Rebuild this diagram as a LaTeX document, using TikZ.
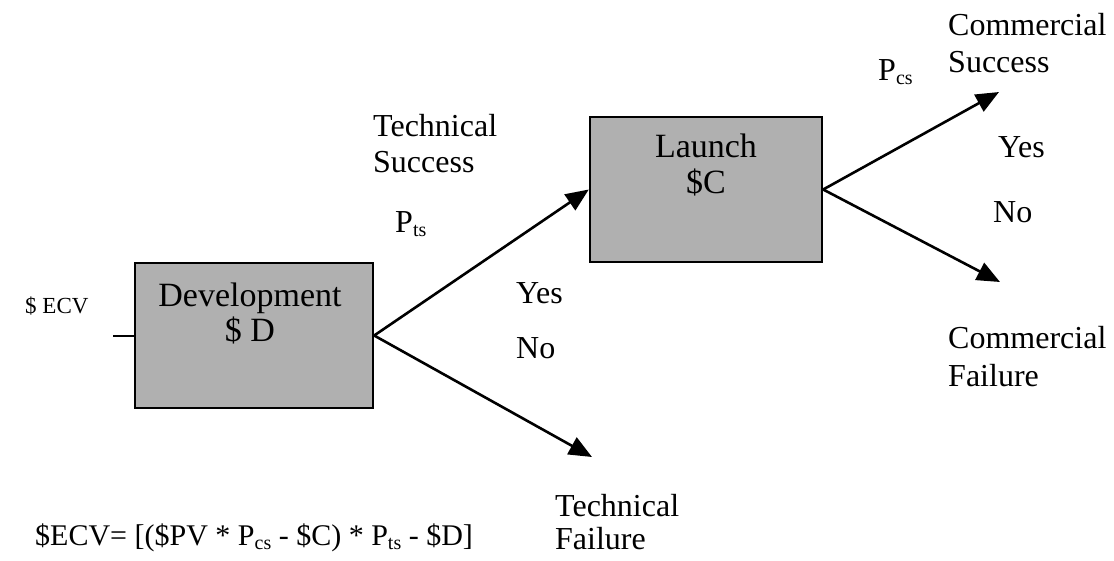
\documentclass[tikz,border=0pt]{standalone}
\usepackage{fontspec}
\setmainfont{Liberation Serif}
\usetikzlibrary{arrows.meta}
\tikzset{
  stagebox/.style={draw=black, line width=2.4pt, fill=black!31, inner sep=0pt},
  boxtext/.style={anchor=base, font=\fontsize{34}{38}\selectfont, inner sep=0pt},
  lbl/.style={anchor=base west, font=\fontsize{32}{36}\selectfont, inner sep=0pt},
  formula/.style={anchor=base west, font=\fontsize{30}{34}\selectfont, inner sep=0pt},
  small/.style={anchor=base west, font=\fontsize{23}{26}\selectfont, inner sep=0pt},
  branch/.style={line width=2.6pt, -{Triangle[length=23pt,width=19pt]}},
}
\newcommand{\subs}[1]{\raisebox{-0.3ex}{\fontsize{20}{21}\selectfont #1}}
\begin{document}
\begin{tikzpicture}[x=1pt,y=-1pt]
\useasboundingbox (0,0) rectangle (1114,560);

% decision stages
\node[stagebox, minimum width=238pt, minimum height=145pt] (dev) at (254,335.5) {};
\node[stagebox, minimum width=232pt, minimum height=145pt] (launch) at (706,189.5) {};
\node[boxtext] (devA) at (250,306) {Development};
\node[boxtext] (devB) at (250,341) {\$ D};
\node[boxtext] (lauA) at (706,157) {Launch};
\node[boxtext] (lauB) at (706,193) {\$C};

% end points of the failure / success branches
\coordinate (tf) at (592,457);
\coordinate (cs) at (999,92);
\coordinate (cf) at (1000,282);
\coordinate (ecv) at (113,336);

\draw[line width=2.6pt] (ecv) -- (dev.west |- ecv);
\draw[branch] (dev.east) -- (launch.west);
\draw[branch] (dev.east) -- (tf);
\draw[branch] (launch.east) -- (cs);
\draw[branch] (launch.east) -- (cf);

% labels
\node[small] (ecvl) at (25,313) {\$ ECV};
\node[lbl] (ts1) at (373,136) {Technical};
\node[lbl] (ts2) at (373,172) {Success};
\node[lbl] (pts) at (395,232) {P\subs{ts}};
\node[lbl] (y1) at (516,303) {Yes};
\node[lbl] (n1) at (516,358) {No};
\node[lbl] (pcs) at (878,80) {P\subs{cs}};
\node[lbl] (cs1) at (948,35) {Commercial};
\node[lbl] (cs2) at (948,72) {Success};
\node[lbl] (y2) at (998,157) {Yes};
\node[lbl] (n2) at (993,222) {No};
\node[lbl] (cf1) at (948,348) {Commercial};
\node[lbl] (cf2) at (948,386) {Failure};
\node[lbl] (tf1) at (555,516) {Technical};
\node[lbl] (tf2) at (555,549) {Failure};
\node[formula] (form) at (35,545) {\$ECV= [(\$PV * P\subs{cs} - \$C) * P\subs{ts} - \$D]};
\end{tikzpicture}
\end{document}
